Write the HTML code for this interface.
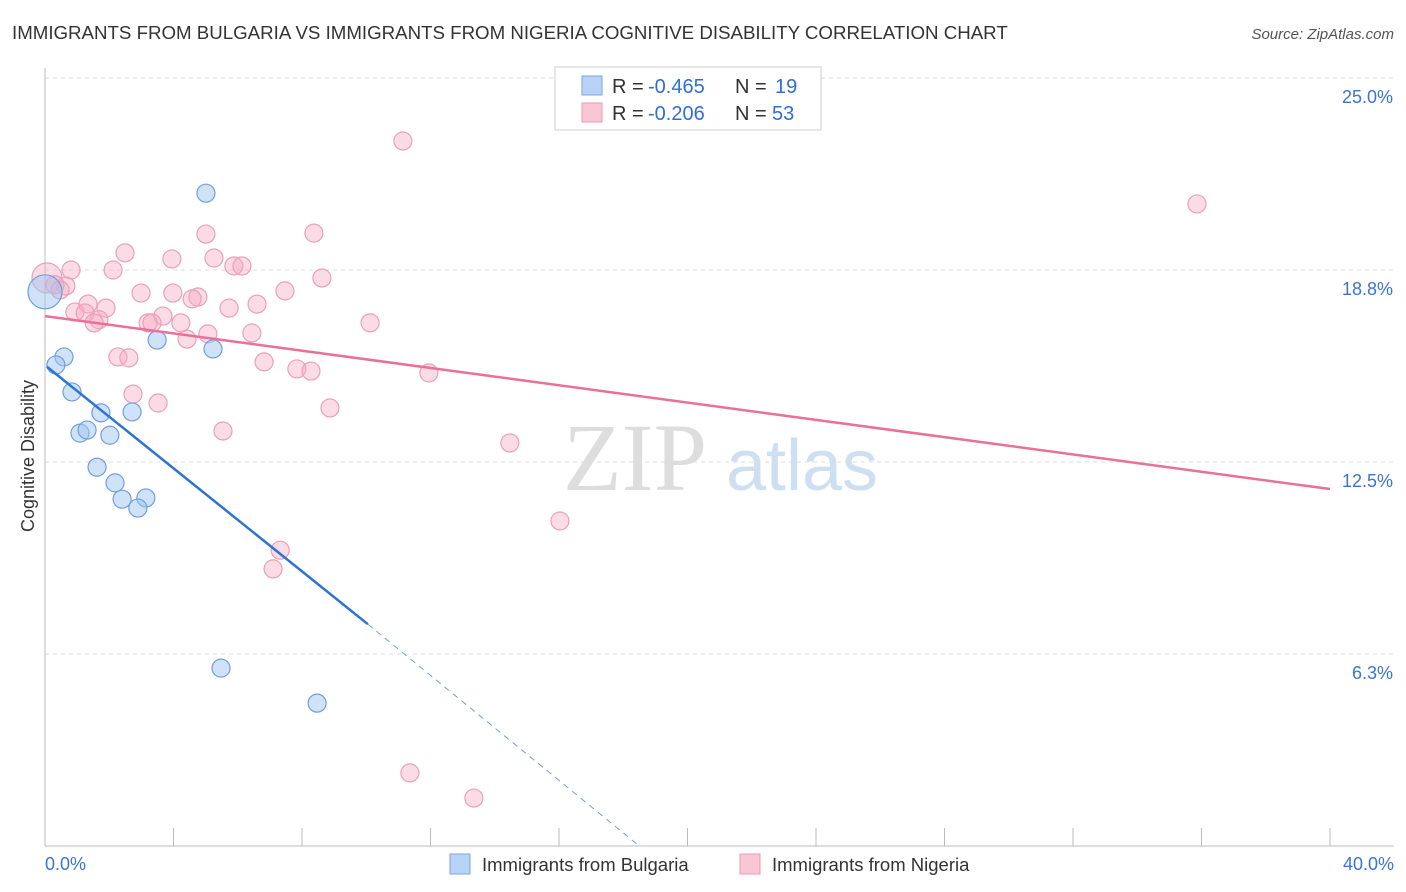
<!DOCTYPE html>
<html><head><meta charset="utf-8"><style>
body{margin:0;background:#fff;font-family:"Liberation Sans",sans-serif;}
svg{display:block}
</style></head><body>
<svg id="chart" width="1406" height="892">
<text x="12" y="39" font-size="18.7" fill="#333">IMMIGRANTS FROM BULGARIA VS IMMIGRANTS FROM NIGERIA COGNITIVE DISABILITY CORRELATION CHART</text>
<text x="1394" y="39" font-size="15" fill="#555" font-style="italic" text-anchor="end">Source: ZipAtlas.com</text>
<g>
<text x="635" y="490" font-size="96" fill="#ddd" font-family="Liberation Serif,serif" text-anchor="middle">ZIP</text>
<text x="802" y="490" font-size="72" fill="#cfdff2" text-anchor="middle">atlas</text>
</g>
<g id="grid"></g>
<g id="marks"></g>
<text transform="translate(34,456) rotate(-90)" font-size="18" fill="#333" text-anchor="middle">Cognitive Disability</text>
<g>
<rect x="555" y="67" width="266" height="63" fill="#fff" stroke="#ccc"/>
<rect x="582" y="76" width="20" height="19" fill="#b8d3f5" stroke="#7aa6e0"/>
<rect x="582" y="103" width="20" height="19" fill="#f9c6d5" stroke="#ec9ab3"/>
<text x="612" y="93" font-size="20" fill="#333">R =</text>
<text x="648" y="93" font-size="20" fill="#2e6fd6">-0.465</text>
<text x="735" y="93" font-size="20" fill="#333">N =</text>
<text x="775" y="93" font-size="20" fill="#2e6fd6">19</text>
<text x="612" y="120" font-size="20" fill="#333">R =</text>
<text x="648" y="120" font-size="20" fill="#2e6fd6">-0.206</text>
<text x="735" y="120" font-size="20" fill="#333">N =</text>
<text x="772" y="120" font-size="20" fill="#2e6fd6">53</text>
</g>
<g>
<rect x="450" y="854" width="20" height="20" fill="#b8d3f5" stroke="#7aa6e0"/>
<text x="482" y="871" font-size="18.5" fill="#333">Immigrants from Bulgaria</text>
<rect x="740" y="854" width="20" height="20" fill="#f9c6d5" stroke="#ec9ab3"/>
<text x="772" y="871" font-size="18.5" fill="#333">Immigrants from Nigeria</text>
</g>
</svg>
<script>
const yTicks=[25,18.75,12.5,6.25];
const yTickLabels=["25.0%","18.8%","12.5%","6.3%"];
const xTickVals=[0,4,8,12,16,20,24,28,32,36,40];
const xEndLabels=["0.0%","40.0%"];
const bulX=[5.01,0.59,0.34,0.84,3.49,5.23,1.74,2.71,1.09,1.31,2.02,1.62,2.18,2.40,3.14,2.89,5.48,8.47,0.0];
const bulY=[21.25,15.92,15.66,14.78,16.47,16.18,14.10,14.13,13.44,13.54,13.37,12.33,11.82,11.29,11.33,11.00,5.79,4.65,18.04];
const nigX=[11.14,35.86,5.01,8.37,2.49,3.95,5.26,5.88,6.13,2.12,0.81,8.62,0.06,0.65,0.47,2.99,3.98,4.76,7.47,1.34,1.90,5.73,6.60,0.93,1.25,3.67,4.58,1.68,1.53,3.21,3.33,4.23,10.12,5.07,6.44,4.42,2.27,2.61,6.82,7.84,8.28,11.95,2.74,3.52,8.87,5.54,14.47,16.03,7.32,7.10,11.36,13.35,0.31];
const nigY=[22.95,20.90,19.92,19.95,19.31,19.11,19.14,18.88,18.88,18.75,18.75,18.49,18.49,18.23,18.10,18.00,18.00,17.87,18.07,17.64,17.51,17.51,17.64,17.38,17.35,17.25,17.81,17.13,17.03,17.03,17.03,17.03,17.03,16.67,16.70,16.50,15.92,15.89,15.76,15.53,15.46,15.40,14.71,14.42,14.26,13.51,13.12,10.58,9.63,9.02,2.38,1.56,18.27];
const bulTrend=[[0.06,15.60],[10.05,7.22],[18.5,0]];
const nigTrend=[[0,17.25],[40,11.62]];
const NS="http://www.w3.org/2000/svg";
const X=v=>45+v*(1285/40);
const Y=v=>846-v*30.72;
function mk(tag,attrs,parent){const e=document.createElementNS(NS,tag);for(const k in attrs)e.setAttribute(k,attrs[k]);parent.appendChild(e);return e;}
const grid=document.getElementById('grid'),marks=document.getElementById('marks');
yTicks.forEach((t,i)=>{
 const l=mk('line',{x1:45,x2:1394,y1:Y(t),y2:Y(t),stroke:'#ddd','stroke-dasharray':'4,4'},grid);
 
 
 const tx=mk('text',{x:1393,y:Y(t)+25,'font-size':18,fill:'#3a74d8','text-anchor':'end'},grid);
 tx.textContent=yTickLabels[i];
 
 
});
const ax=mk('line',{x1:45,x2:1394,y1:846,y2:846,stroke:'#bbb'},grid);


const ay=mk('line',{x1:45,x2:45,y1:68,y2:846,stroke:'#bbb'},grid);


xTickVals.forEach(t=>{
 const l=mk('line',{x1:X(t),x2:X(t),y1:828,y2:846,stroke:'#bbb'},grid);
 
 
});
[[0,'start',45],[40,'end',1394]].forEach((d,i)=>{
 const tx=mk('text',{x:d[2],y:870,'font-size':18,fill:'#3a74d8','text-anchor':d[1]},grid);
 tx.textContent=xEndLabels[i];
 
 
});
nigX.forEach((x,i)=>{
 const c=mk('circle',{cx:X(x),cy:Y(nigY[i]),r:(i==12?15:9),fill:'rgba(246,170,195,0.42)',stroke:'#e9a0b8','stroke-width':1.2},marks);
 
 
});
bulX.forEach((x,i)=>{
 const c=mk('circle',{cx:X(x),cy:Y(bulY[i]),r:(i==18?17:9),fill:'rgba(160,198,240,0.5)',stroke:'#6f9fdc','stroke-width':1.2},marks);
 
 
});
const nt=mk('line',{x1:X(nigTrend[0][0]),y1:Y(nigTrend[0][1]),x2:X(nigTrend[1][0]),y2:Y(nigTrend[1][1]),stroke:'#e8709a','stroke-width':2.5},marks);


const bt=mk('line',{x1:X(bulTrend[0][0]),y1:Y(bulTrend[0][1]),x2:X(bulTrend[1][0]),y2:Y(bulTrend[1][1]),stroke:'#2e72d6','stroke-width':2.5},marks);


const bd=mk('line',{x1:X(bulTrend[1][0]),y1:Y(bulTrend[1][1]),x2:X(bulTrend[2][0]),y2:Y(bulTrend[2][1]),stroke:'#6f9fdc','stroke-width':1,'stroke-dasharray':'6,5'},marks);


</script>
</body></html>
